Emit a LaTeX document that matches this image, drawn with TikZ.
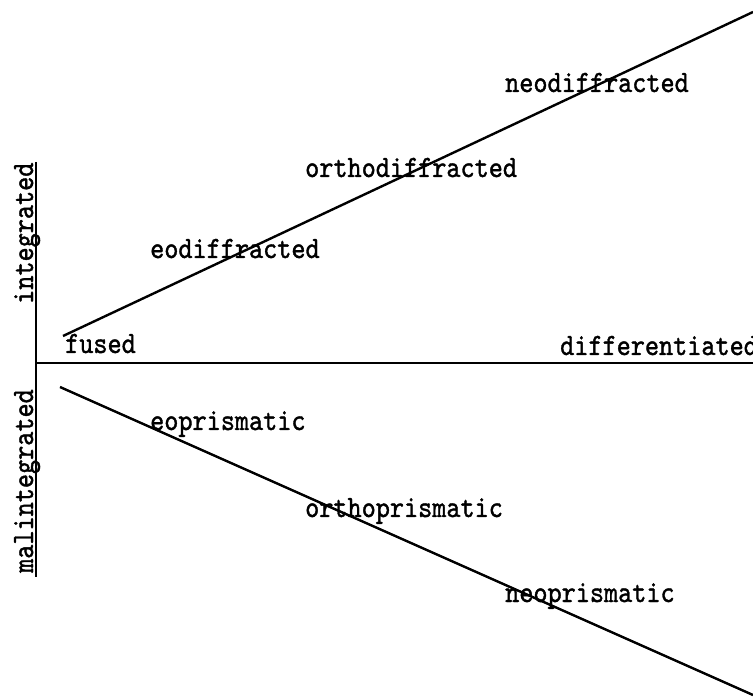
\documentclass[tikz,border=0pt]{standalone}
\usepackage{fontspec}
% Typewriter lettering, slightly tall and heavy
\newfontfamily\twfont{lmmono10-regular.otf}[FakeBold=1.3]
\newcommand{\tw}[1]{\scalebox{1}[1.15]{#1}}
\tikzset{
  axisline/.style={line width=1.3pt},
  trendline/.style={line width=2.4pt},
  lbl/.style={inner sep=0pt, anchor=base west,
    font=\twfont\fontsize{26.9}{30}\selectfont},
  vlbl/.style={lbl, rotate=90}
}
\begin{document}
\begin{tikzpicture}[x=1pt, y=-1pt]
  \clip (0,0) rectangle (753,700);
  \useasboundingbox (0,0) rectangle (753,700);

  % axes
  \coordinate (top) at (36,162);
  \coordinate (bottom) at (36,577);
  \coordinate (origin) at (36,363);
  \coordinate (right) at (753,363);
  \draw[axisline] (top) -- (bottom);
  \draw[axisline] (origin) -- (right);

  % the two branches
  \coordinate (upA) at (63,336);
  \coordinate (upB) at (753,12);
  \coordinate (loA) at (60,387);
  \coordinate (loB) at (753,695);
  \draw[trendline] (upA) -- (upB);
  \draw[trendline] (loA) -- (loB);

  % axis labels
  \node[vlbl] (integ) at (33,304) {\tw{integrated}};
  \node[vlbl] (malinteg) at (33,573) {\tw{malintegrated}};
  \node[lbl] (fused) at (65,353) {\tw{fused}};
  \node[lbl] (diff) at (560,355) {\tw{differentiated}};

  % upper branch
  \node[lbl] (eod) at (150,258) {\tw{eodiffracted}};
  \node[lbl] (orthod) at (305,177) {\tw{orthodiffracted}};
  \node[lbl] (neod) at (505,92) {\tw{neodiffracted}};

  % lower branch
  \node[lbl] (eop) at (150,430) {\tw{eoprismatic}};
  \node[lbl] (orthop) at (305,517) {\tw{orthoprismatic}};
  \node[lbl] (neop) at (505,602) {\tw{neoprismatic}};
\end{tikzpicture}
\end{document}
